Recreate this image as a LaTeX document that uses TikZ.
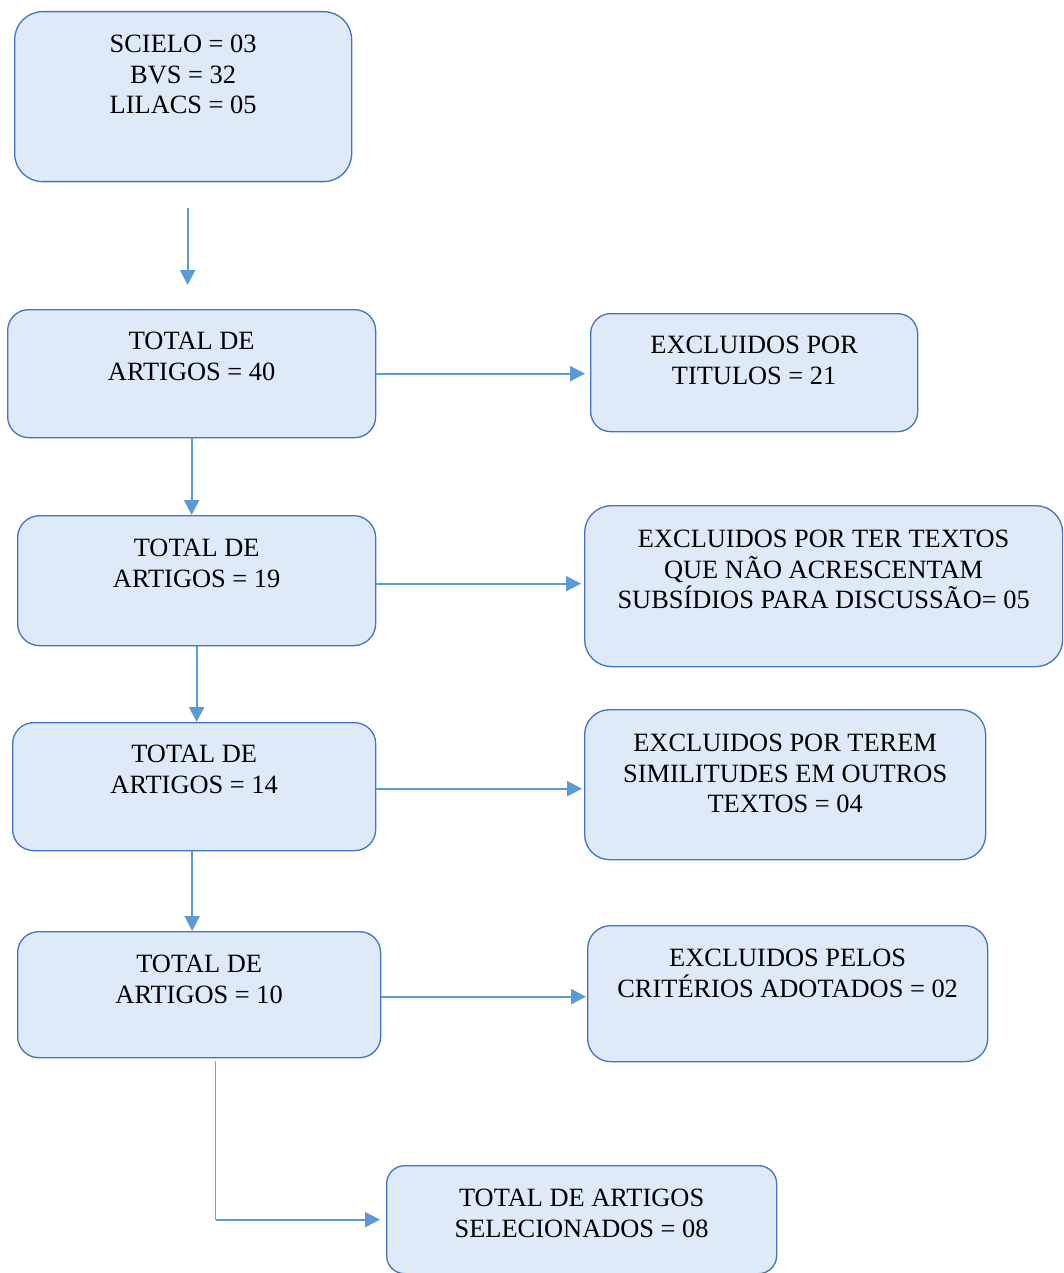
\documentclass[tikz,border=0pt]{standalone}
\usepackage{fontspec}
\setmainfont{Liberation Serif}
\usetikzlibrary{positioning,arrows.meta}
\definecolor{boxline}{RGB}{68,114,196}
\definecolor{boxfill}{RGB}{222,234,247}
\definecolor{arrline}{RGB}{91,155,213}
\definecolor{thinline}{RGB}{108,163,220}
\tikzset{
  box/.style={draw=boxline, fill=boxfill, line width=1.3pt, inner sep=0pt, anchor=north west},
  txt/.style={align=center, inner sep=0pt, font=\fontsize{26.4}{30.5}\selectfont},
  arr/.style={draw=arrline, line width=2.2pt, -{Triangle[length=15pt,width=15pt]}}
}
\begin{document}
\begin{tikzpicture}[x=1pt,y=-1pt]
\useasboundingbox (0,0) rectangle (1063,1273);
\clip (0,0) rectangle (1063,1273);

\node[box, minimum width=337pt, minimum height=170pt, rounded corners=28pt] (src) at (14,11) {};
\node[txt, below=24pt of src.north] (srct) {SCIELO = 03\\ BVS = 32\\ LILACS = 05};

\node[box, minimum width=368pt, minimum height=128pt, rounded corners=21pt] (tot1) at (7,309) {};
\node[txt, below=23pt of tot1.north] (tot1t) {TOTAL DE\\ ARTIGOS = 40};
\node[box, minimum width=327pt, minimum height=118pt, rounded corners=20pt] (exc1) at (590,313) {};
\node[txt, below=23pt of exc1.north] (exc1t) {EXCLUIDOS POR\\ TITULOS = 21};

\node[box, minimum width=358pt, minimum height=130pt, rounded corners=22pt] (tot2) at (17,515) {};
\node[txt, below=24pt of tot2.north] (tot2t) {TOTAL DE\\ ARTIGOS = 19};
\node[box, minimum width=478pt, minimum height=161pt, rounded corners=27pt] (exc2) at (584,505) {};
\node[txt, below=25pt of exc2.north] (exc2t) {EXCLUIDOS POR TER TEXTOS\\ QUE NÃO ACRESCENTAM\\ SUBSÍDIOS PARA DISCUSSÃO= 05};

\node[box, minimum width=363pt, minimum height=128pt, rounded corners=21pt] (tot3) at (12,722) {};
\node[txt, below=23pt of tot3.north] (tot3t) {TOTAL DE\\ ARTIGOS = 14};
\node[box, minimum width=401pt, minimum height=150pt, rounded corners=25pt] (exc3) at (584,709) {};
\node[txt, below=25pt of exc3.north] (exc3t) {EXCLUIDOS POR TEREM\\ SIMILITUDES EM OUTROS\\ TEXTOS = 04};

\node[box, minimum width=363pt, minimum height=126pt, rounded corners=21pt] (tot4) at (17,931) {};
\node[txt, below=24pt of tot4.north] (tot4t) {TOTAL DE\\ ARTIGOS = 10};
\node[box, minimum width=400pt, minimum height=136pt, rounded corners=23pt] (exc4) at (587,925) {};
\node[txt, below=24pt of exc4.north] (exc4t) {EXCLUIDOS PELOS\\ CRITÉRIOS ADOTADOS = 02};

\node[box, minimum width=390pt, minimum height=108pt, rounded corners=18pt] (final) at (386,1165) {};
\node[txt, below=24pt of final.north] (finalt) {TOTAL DE ARTIGOS\\ SELECIONADOS = 08};

% setas
\draw[arr, shorten <=26pt, shorten >=24pt] ([xshift=4.5pt]src.south) -- ([xshift=4.5pt]src.south |- tot1.north);
\draw[arr] (tot1.south) -- (tot1.south |- tot2.north);
\draw[arr] (tot2.south) -- (tot2.south |- tot3.north);
\draw[arr] ([xshift=-2pt]tot3.south) -- ([xshift=-2pt]tot3.south |- tot4.north);

\draw[arr, shorten >=5pt] (tot1.east) -- (tot1.east -| exc1.west);
\draw[arr, shorten >=3pt] ([yshift=-3pt]tot2.east) -- ([yshift=-3pt]tot2.east -| exc2.west);
\draw[arr, shorten >=2pt] ([yshift=-2pt]tot3.east) -- ([yshift=-2pt]tot3.east -| exc3.west);
\draw[arr, shorten >=1pt] ([yshift=-2pt]tot4.east) -- ([yshift=-2pt]tot4.east -| exc4.west);

\coordinate (bend) at ([xshift=16.5pt]tot4.south |- final.west);
\draw[thinline, line width=1.6pt, shorten <=3pt] ([xshift=16.5pt]tot4.south) -- (bend);
\draw[arr, shorten >=6pt] (bend) -- (final.west);
\end{tikzpicture}
\end{document}
